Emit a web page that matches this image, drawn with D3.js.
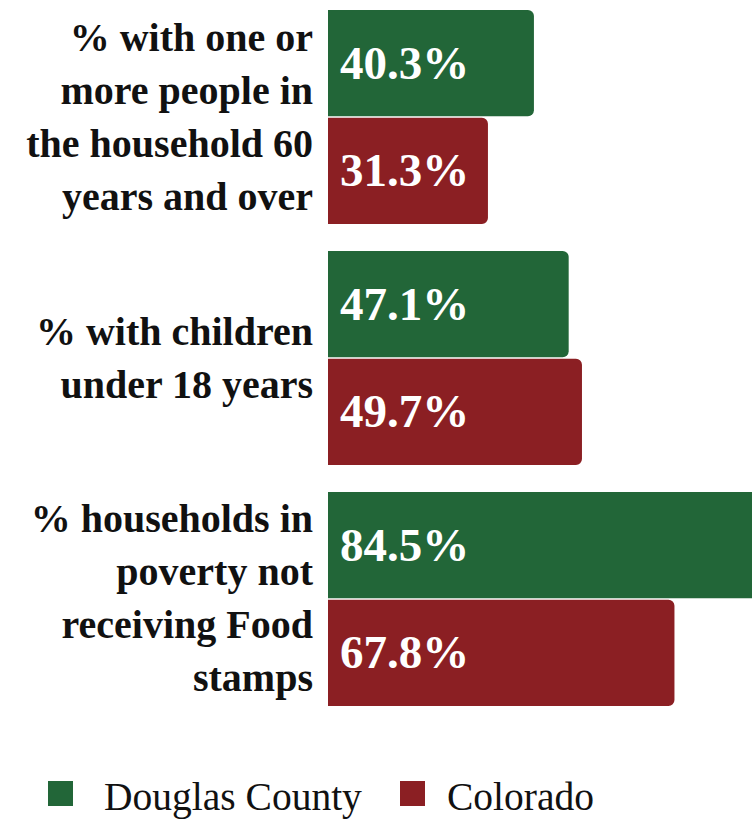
<!DOCTYPE html>
<html>
<head>
<meta charset="utf-8">
<script src="https://cdn.jsdelivr.net/npm/d3@7"></script>
<style>
  html, body { margin: 0; padding: 0; background: #fff; }
  svg { display: block; }
</style>
</head>
<body>
<svg id="chart" width="752" height="821"></svg>
<script>
// Household characteristics: Douglas County vs. Colorado
const categories = ["age60", "children", "foodStamps"];
const categoryLines = [
  ["% with one or", "more people in", "the household 60", "years and over"],
  ["% with children", "under 18 years"],
  ["% households in", "poverty not", "receiving Food", "stamps"]
];
const seriesNames = ["Douglas County", "Colorado"];
const douglasCounty = [40.3, 47.1, 84.5];
const colorado = [31.3, 49.7, 67.8];
const seriesColors = ["#226638", "#8b1f23"];

const width = 752, height = 821;
const svg = d3.select("#chart");

const rows = categories.map((c, i) => ({
  key: c,
  lines: categoryLines[i],
  values: [
    { series: seriesNames[0], value: douglasCounty[i] },
    { series: seriesNames[1], value: colorado[i] }
  ]
}));

const y0 = d3.scaleBand()
  .domain(categories)
  .range([10, 706])
  .paddingInner(0.112)
  .paddingOuter(0);

const y1 = d3.scaleBand()
  .domain(seriesNames)
  .range([0, y0.bandwidth()])
  .paddingInner(0.012);

const x = d3.scaleLinear()
  .domain([0, 100])
  .range([328, 839]);

const color = d3.scaleOrdinal().domain(seriesNames).range(seriesColors);

// bar with square left edge and rounded right corners
function rightRounded(x0, y, w, h, r) {
  r = Math.min(r, w / 2, h / 2);
  return `M${x0},${y}h${w - r}a${r},${r} 0 0 1 ${r},${r}v${h - 2 * r}` +
         `a${r},${r} 0 0 1 ${-r},${r}h${-(w - r)}z`;
}

const fmt = d3.format(".1f");

const groups = svg.append("g").selectAll("g")
  .data(rows)
  .join("g")
  .attr("transform", d => `translate(0,${y0(d.key)})`);

groups.selectAll("path")
  .data(d => d.values)
  .join("path")
  .attr("d", d => rightRounded(x(0), y1(d.series), x(d.value) - x(0), y1.bandwidth(), 6))
  .attr("fill", d => color(d.series));

groups.selectAll("text.value")
  .data(d => d.values)
  .join("text")
  .attr("class", "value")
  .attr("x", x(0) + 12)
  .attr("y", d => y1(d.series) + y1.bandwidth() / 2)
  .attr("dy", "0.33em")
  .attr("fill", "#fff")
  .attr("font-family", "'Liberation Serif', serif")
  .attr("font-weight", "bold")
  .attr("font-size", 47)
  .text(d => fmt(d.value) + "%");

// category labels, right-aligned beside the bars
const lineH = 53;
const labels = svg.append("g").selectAll("text")
  .data(rows)
  .join("text")
  .attr("text-anchor", "end")
  .attr("font-family", "'Liberation Serif', serif")
  .attr("font-weight", "bold")
  .attr("font-size", 40)
  .attr("fill", "#111");

labels.each(function(d) {
  const center = y0(d.key) + y0.bandwidth() / 2;
  const first = center - (d.lines.length - 1) / 2 * lineH + 13;
  d3.select(this).selectAll("tspan")
    .data(d.lines)
    .join("tspan")
    .attr("x", 313)
    .attr("y", (t, i) => first + i * lineH)
    .text(t => t);
});

// legend
const legendX = [48, 400];
const legend = svg.append("g").selectAll("g")
  .data(seriesNames)
  .join("g")
  .attr("transform", (d, i) => `translate(${legendX[i]},781)`);

legend.append("rect")
  .attr("width", 25)
  .attr("height", 25)
  .attr("fill", d => color(d));

legend.append("text")
  .attr("x", (d, i) => i === 0 ? 56 : 47)
  .attr("y", 29)
  .attr("font-family", "'Liberation Serif', serif")
  .attr("font-size", 39.5)
  .attr("fill", "#111")
  .text(d => d);
</script>
</body>
</html>
